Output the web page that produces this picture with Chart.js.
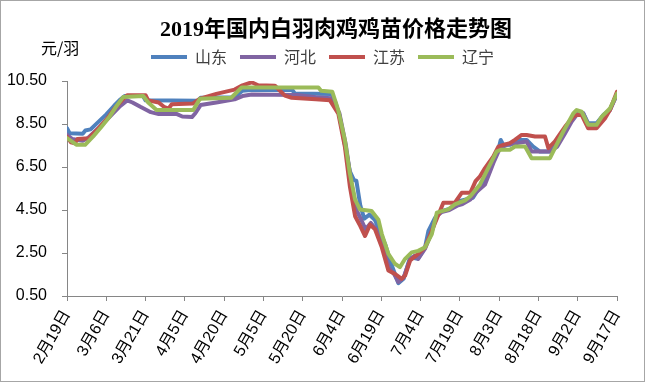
<!DOCTYPE html>
<html><head><meta charset="utf-8">
<script src="https://cdn.jsdelivr.net/npm/chart.js@4"></script>
<style>
html,body{margin:0;padding:0;background:#fff;}
#wrap{width:645px;height:382px;box-sizing:border-box;border:1px solid #a6a6a6;background:#fff;}
canvas{display:block;}
</style></head><body>
<div id="wrap"><canvas id="c" width="643" height="380"></canvas></div>
<script>
// x = days since 2月19日
const xTickLabels = ['2月19日','3月6日','3月21日','4月5日','4月20日','5月5日','5月20日','6月4日','6月19日','7月4日','7月19日','8月3日','8月18日','9月2日','9月17日'];
const yTickValues = [0.5, 2.5, 4.5, 6.5, 8.5, 10.5];
const seriesNames = ['山东','河北','江苏','辽宁'];
const chartTitle = '2019年国内白羽肉鸡鸡苗价格走势图';
const unitText = '元/羽';

const shandong = [[0,8.3],[1,8.07],[6,8.05],[7,8.2],[9,8.25],[12,8.6],[15,8.95],[18,9.35],[20,9.6],[22,9.8],[29,9.8],[30,9.6],[50,9.58],[51,9.72],[64,9.75],[67,10.05],[70,10.08],[86,10.08],[87,9.92],[101,9.9],[102.5,9.5],[104,8.9],[106,7.6],[108,6.3],[109.5,5.9],[110.5,5.85],[112,4.7],[113.5,4.1],[115.5,4.28],[117.5,4.05],[119.5,3.5],[121.5,2.9],[123.5,2.1],[125,1.6],[126.5,1.1],[128.5,1.3],[131,2.3],[134,2.23],[136.7,2.76],[138,3.53],[140.6,4.15],[143,4.45],[146,4.55],[149,4.75],[150,4.92],[155,5.07],[159,5.84],[162.8,6.84],[164.7,7.3],[165.6,7.76],[166.6,7.53],[169,7.53],[172.9,7.76],[175.5,7.76],[178,7.45],[180.6,7.22],[184.4,7.22],[187.2,7.61],[190.2,8.15],[192.7,8.69],[195.2,9.07],[197.1,9.0],[199,8.53],[202.2,8.53],[204.8,8.92],[207.3,9.15],[210,9.91]];
const hebei = [[0,8.0],[2,7.8],[6,7.72],[8,7.85],[12,8.3],[16,8.8],[20,9.3],[23,9.6],[25,9.5],[28,9.3],[32,9.05],[35,8.96],[42,8.96],[44,8.85],[47.7,8.82],[49,9.0],[51,9.38],[57,9.5],[64,9.65],[67,9.8],[70.5,9.87],[88,9.85],[95,9.75],[101,9.7],[104,9.0],[106.5,7.5],[108.5,5.8],[110.5,4.5],[112.5,4.0],[114,3.6],[116,3.9],[118,3.6],[120.5,2.8],[123,1.8],[125,1.5],[126.5,1.15],[128.5,1.35],[131,2.2],[132.8,2.38],[134.1,2.23],[136.7,2.7],[139,3.4],[141,4.2],[143,4.4],[146,4.5],[149,4.7],[151,4.78],[154,4.99],[156,5.3],[159.6,5.69],[162.8,6.69],[165.3,7.38],[167.9,7.53],[171.9,7.61],[175.5,7.69],[177.4,7.22],[184.4,7.22],[187.2,7.45],[190.2,8.07],[192.7,8.61],[195.2,9.02],[197.1,9.0],[199,8.46],[202.2,8.46],[204.8,8.84],[207.3,9.15],[210,9.88]];
const jiangsu = [[0,7.9],[1.5,7.65],[3,7.6],[4,7.8],[8.3,7.84],[12,8.3],[15,8.7],[18,9.2],[21,9.6],[23,9.84],[30,9.84],[31,9.6],[35,9.5],[37,9.3],[38.8,9.22],[40,9.42],[48,9.45],[50.8,9.68],[57,9.9],[64,10.1],[67,10.3],[70.5,10.44],[73,10.3],[79.4,10.28],[83.2,9.82],[85.8,9.72],[95,9.65],[100.4,9.6],[103.6,8.98],[106.1,7.44],[108,5.6],[110,4.21],[112,3.75],[113.8,3.29],[115.7,3.82],[117.6,3.6],[120.2,2.76],[122.7,1.69],[125.2,1.53],[127.8,1.3],[129.1,1.45],[131,2.15],[134.1,2.46],[136.7,2.76],[139.3,3.53],[141.9,4.3],[143.7,4.84],[148.1,4.84],[150.7,5.3],[154,5.3],[156,5.84],[157.7,6.07],[159.6,6.45],[162.8,6.99],[164.7,7.45],[166.6,7.53],[169.1,7.61],[171,7.76],[173.6,7.99],[175.5,7.99],[178.7,7.92],[182.5,7.92],[183.8,7.38],[186.3,7.69],[187.6,7.92],[190.2,8.38],[193.3,8.84],[194.6,8.92],[196.5,8.92],[199,8.3],[202.2,8.3],[205.4,8.76],[207.3,9.15],[210,10.0]];
const liaoning = [[0,7.84],[3.7,7.53],[6.9,7.53],[10,7.92],[13,8.35],[16,8.8],[19,9.35],[21.5,9.76],[29.1,9.8],[31,9.5],[34.2,9.15],[48.2,9.15],[50.8,9.68],[62.7,9.72],[66.7,10.2],[96,10.2],[97,10.05],[101.3,10.0],[103.6,9.13],[106.1,7.75],[108,6.2],[110,4.98],[111.9,4.52],[116.3,4.45],[118.9,4.05],[120.2,3.38],[122.7,2.46],[125.2,2.0],[127.1,1.84],[129.1,2.23],[131.6,2.53],[134.1,2.6],[136.7,2.76],[139.3,3.38],[141.2,4.38],[143.1,4.45],[145.6,4.53],[148.1,4.76],[152,4.95],[154,5.14],[157.7,5.69],[161.5,6.61],[164,7.22],[165.6,7.3],[169.1,7.3],[171,7.45],[174.9,7.45],[177.4,6.91],[184.4,6.91],[186.3,7.38],[189.5,8.15],[193.3,8.99],[194.6,9.15],[196.5,9.07],[199,8.46],[202.2,8.46],[204.2,8.84],[207.3,9.22],[210,9.91]];

const seriesData = [shandong, hebei, jiangsu, liaoning];
const colors = ['#4F81BD','#8064A2','#C0504D','#9BBB59'];

// datasets listed in reverse so the last series is painted on top
const datasets = seriesNames.map((name, i) => ({
  label: name,
  data: seriesData[i].map(p => ({x: p[0], y: p[1]})),
  borderColor: colors[i],
  backgroundColor: colors[i],
  borderWidth: 4,
  pointRadius: 0,
  tension: 0,
  borderJoinStyle: 'round',
  borderCapStyle: 'round'
})).reverse();

const textPlugin = {
  id: 'textPlugin',
  beforeLayout(chart) {
    const lg = chart.legend;
    if (lg && !lg._extraPatched) {
      const orig = lg.fit.bind(lg);
      lg.fit = function () { orig(); this.height += 6; };
      lg._extraPatched = true;
    }
  },
  afterDraw(chart) {
    const ctx = chart.ctx;
    ctx.save();
    ctx.fillStyle = '#000';
    ctx.textBaseline = 'middle';
    ctx.textAlign = 'center';
    ctx.font = 'bold 22px "Liberation Serif", "Noto Sans CJK SC"';
    ctx.fillText(chartTitle, 335, 29);
    ctx.textAlign = 'left';
    ctx.font = '16px "Noto Sans CJK SC"';
    ctx.fillText(unitText, 40, 47);
    ctx.restore();
  }
};

const axisColor = '#868686';
new Chart(document.getElementById('c'), {
  type: 'line',
  data: { datasets },
  plugins: [textPlugin],
  options: {
    responsive: false,
    devicePixelRatio: 1,
    animation: false,
    layout: { padding: { left: 0, right: 0, top: 35, bottom: 0 } },
    plugins: {
      title: { display: false },
      legend: {
        display: true,
        position: 'top',
        reverse: true,
        labels: {
          boxWidth: 36, boxHeight: 4, padding: 13,
          color: '#404040',
          font: { family: '"Noto Sans CJK SC"', size: 16 },
          generateLabels(chart) {
            const items = Chart.defaults.plugins.legend.labels.generateLabels(chart);
            items.forEach(it => { it.lineWidth = 0; });
            return items;
          }
        }
      },
      tooltip: { enabled: false }
    },
    scales: {
      x: {
        type: 'linear', min: 0, max: 210,
        afterBuildTicks: s => { s.ticks = xTickLabels.map((_, i) => ({ value: i * 15 })); },
        afterFit: s => { s.height = 85; },
        ticks: {
          autoSkip: false, minRotation: 60, maxRotation: 60, padding: 6,
          color: '#000',
          font: { family: '"Liberation Sans", "Noto Sans CJK SC"', size: 16 },
          callback: v => xTickLabels[Math.round(v / 15)]
        },
        grid: { drawOnChartArea: false, drawTicks: true, tickLength: 5, color: axisColor },
        border: { color: axisColor, width: 1 }
      },
      y: {
        min: 0.5, max: 10.5,
        afterBuildTicks: s => { s.ticks = yTickValues.map(v => ({ value: v })); },
        afterFit: s => { s.width = 66; },
        ticks: {
          padding: 15, color: '#000',
          font: { family: '"Liberation Sans"', size: 16 },
          callback: v => Number(v).toFixed(2)
        },
        grid: { drawOnChartArea: false, drawTicks: true, tickLength: 5, color: axisColor },
        border: { color: axisColor, width: 1 }
      },
      yRightSpace: {
        position: 'right', display: true,
        afterFit: s => { s.width = 27; },
        ticks: { display: false },
        grid: { display: false, drawTicks: false },
        border: { display: false }
      }
    }
  }
});
</script>
</body></html>
